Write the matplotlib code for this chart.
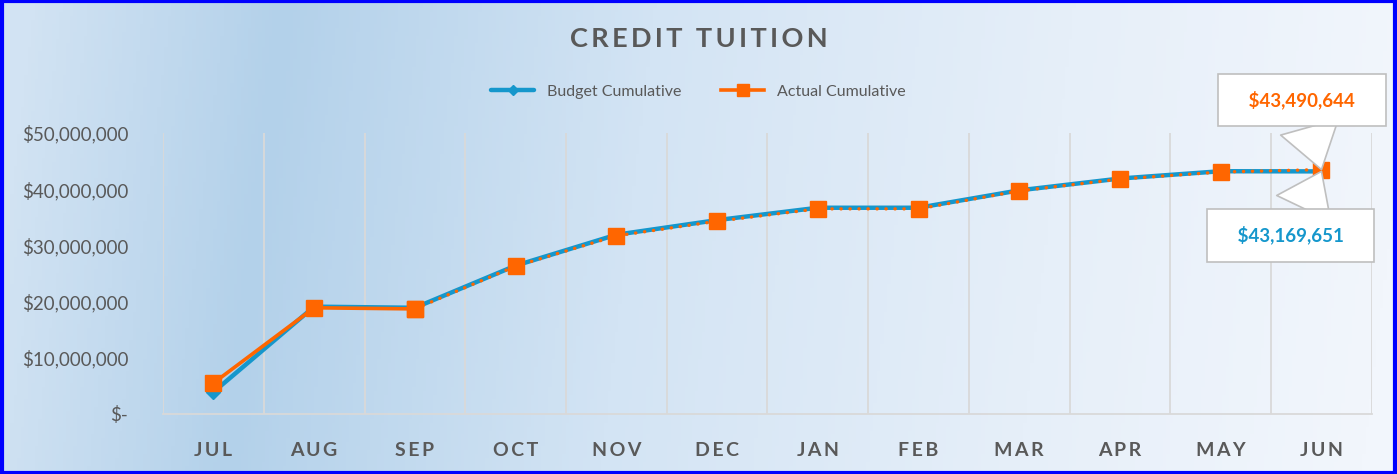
import numpy as np
import matplotlib
matplotlib.use("Agg")
import matplotlib.pyplot as plt
from matplotlib.colors import LinearSegmentedColormap
from matplotlib.patches import Rectangle
from matplotlib.ticker import FuncFormatter

# Data (dollars)
months = ["JUL", "AUG", "SEP", "OCT", "NOV", "DEC", "JAN", "FEB", "MAR", "APR", "MAY", "JUN"]
budget = [3_900_000, 19_100_000, 18_900_000, 26_400_000, 31_900_000, 34_500_000,
          36_700_000, 36_700_000, 39_800_000, 41_900_000, 43_200_000, 43_169_651]
actual = [5_500_000, 18_900_000, 18_700_000, 26_300_000, 31_700_000, 34_300_000,
          36_500_000, 36_500_000, 39_700_000, 41_800_000, 43_060_000, 43_490_644]
y_ticks = [0, 10_000_000, 20_000_000, 30_000_000, 40_000_000, 50_000_000]

BLUE = "#1597cc"
ORANGE = "#ff6600"
GREY = "#595959"
FONT = ["Lato", "DejaVu Sans"]

plt.rcParams["font.family"] = FONT

fig = plt.figure(figsize=(13.97, 4.74), dpi=100)

# gradient background
bg = fig.add_axes([0, 0, 1, 1], zorder=-10)
bg.axis("off")
cmap = LinearSegmentedColormap.from_list(
    "bg", [(0.0, "#d2e3f3"), (0.18, "#b3d1ea"), (0.45, "#d3e4f4"), (0.75, "#e6eff9"), (1.0, "#f2f6fc")])
gx = np.linspace(0, 1, 400)
gy = np.linspace(0, 1, 120)
GX, GY = np.meshgrid(gx, gy)
bg.imshow(GX + 0.04 * (GY - 0.5), cmap=cmap, aspect="auto", extent=[0, 1, 0, 1], vmin=0, vmax=1)
bg.set_xlim(0, 1)
bg.set_ylim(0, 1)

ax = fig.add_axes([0.1167, 0.1266, 0.8653, 0.5928])
ax.patch.set_alpha(0)
x = np.arange(len(months))

# budget line
ax.plot(x, budget, color=BLUE, lw=3.2, marker="D", ms=7, mfc=BLUE, mec=BLUE,
        label="Budget Cumulative", zorder=3, solid_capstyle="round")
# actual: solid through SEP, dotted forecast afterwards
ax.plot(x[:3], actual[:3], color=ORANGE, lw=2.6, marker="s", ms=11, mfc=ORANGE, mec=ORANGE,
        label="Actual Cumulative", zorder=4)
ax.plot(x[2:], actual[2:], color=ORANGE, lw=2.4, linestyle=(0, (0.1, 2.6)), dash_capstyle="round",
        marker="s", ms=11, mfc=ORANGE, mec=ORANGE, zorder=4)

ax.set_xlim(-0.5, len(months) - 0.5)
ax.set_ylim(0, 50_000_000)
ax.set_yticks(y_ticks)
ax.yaxis.set_major_formatter(FuncFormatter(lambda v, p: "$-" if v == 0 else "${:,.0f}".format(v)))
ax.set_xticks(x)
ax.set_xticklabels(["\u2009".join(m) for m in months], fontsize=14, fontweight="bold", color=GREY)
ax.set_xticks(np.arange(-0.5, len(months)), minor=True)
ax.grid(False)
ax.grid(True, which="minor", axis="x", color="#d9d9d9", lw=1.3)
ax.tick_params(axis="y", length=0, labelsize=13.5, labelcolor=GREY, pad=25)
ax.tick_params(axis="x", which="both", length=0, pad=20)
for s in ["top", "right", "left"]:
    ax.spines[s].set_visible(False)
ax.spines["bottom"].set_color("#d9d9d9")
ax.spines["bottom"].set_linewidth(1.3)

# callouts for the end values
bbox = dict(boxstyle="square,pad=0.9", fc="white", ec="#bfbfbf", lw=1.2)
wedge = dict(arrowstyle="wedge,tail_width=3.2,shrink_factor=0.5", fc="white",
             ec="#bfbfbf", lw=1.2, shrinkA=0, shrinkB=0)
ax.annotate("   ${:,.0f}   ".format(actual[-1]), xy=(x[-1], actual[-1]), xytext=(-14, 50),
            textcoords="offset points", ha="center", va="center", fontsize=13.5, fontweight="bold",
            color=ORANGE, bbox=bbox, zorder=6, arrowprops=wedge, annotation_clip=False)
ax.annotate("   ${:,.0f}   ".format(budget[-1]), xy=(x[-1], budget[-1]), xytext=(-22, -46),
            textcoords="offset points", ha="center", va="center", fontsize=13.5, fontweight="bold",
            color=BLUE, bbox=bbox, zorder=6, arrowprops=wedge, annotation_clip=False)

fig.text(0.5, 0.917, "CREDIT TUITION".replace("", "\u2009").strip(),
         ha="center", va="center", fontsize=19.5, fontweight="bold", color=GREY)

fig.legend(loc="center", bbox_to_anchor=(0.5, 0.806), ncol=2, frameon=False, fontsize=11.5,
           labelcolor=GREY, handlelength=2.7, columnspacing=2.5, markerscale=0.75)

# blue frame
fig.patches.append(Rectangle((0.0015, 0.003), 0.997, 0.994, transform=fig.transFigure,
                             fill=False, ec="#0000ff", lw=3, zorder=20))

fig.savefig("out.png", dpi=100)
